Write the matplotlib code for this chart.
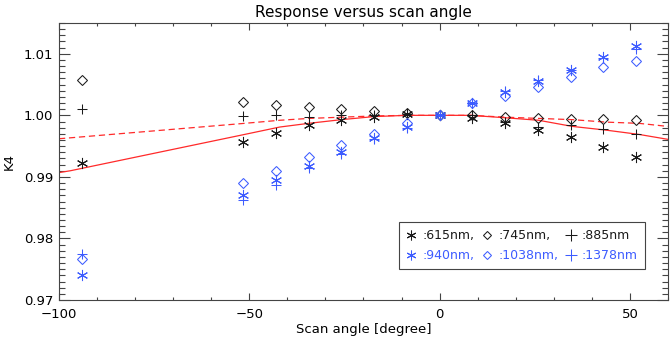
import matplotlib
matplotlib.use("Agg")
import matplotlib.pyplot as plt
from matplotlib.lines import Line2D
from matplotlib.ticker import MultipleLocator

plt.rcParams['font.family'] = ['DejaVu Sans']

# -- measured points --
angles = [-94, -51.6, -43, -34.4, -25.8, -17.2, -8.6, 0, 8.6, 17.2, 25.8, 34.4, 43, 51.6]

k615 = [0.9923, 0.9957, 0.9972, 0.9984, 0.9993, 0.9997, 1.0002, 1.0, 0.9995, 0.9987, 0.9976, 0.9965, 0.9949, 0.9933]
k745 = [1.0058, 1.0022, 1.0017, 1.0013, 1.0011, 1.0007, 1.0003, 1.0, 1.0000, 0.9997, 0.9995, 0.9994, 0.9994, 0.9992]
k885 = [1.0011, 0.9999, 1.0000, 0.9997, 1.0000, 1.0001, 1.0002, 1.0, 1.0000, 0.9989, 0.9981, 0.9984, 0.9978, 0.9970]
k940 = [0.9740, 0.9871, 0.9895, 0.9918, 0.9941, 0.9964, 0.9981, 1.0, 1.0020, 1.0038, 1.0055, 1.0074, 1.0095, 1.0113]
k1038 = [0.9767, 0.9890, 0.9910, 0.9932, 0.9952, 0.9969, 0.9987, 1.0, 1.0020, 1.0031, 1.0046, 1.0063, 1.0078, 1.0089]
k1378 = [0.9774, 0.9863, 0.9887, 0.9914, 0.9938, 0.9962, 0.9979, 1.0, 1.0020, 1.0039, 1.0057, 1.0073, 1.0093, 1.0108]

# -- model curves --
curve_x = [-100, -97, -52, -42, -34.4, -25.8, -17.2, -8.6, 0, 8.2, 17.4, 26, 34.9, 43.7, 52.4, 60]
curve_solid = [0.9907, 0.9910, 0.9968, 0.9981, 0.9987, 0.9993, 0.9998, 1.0, 1.0, 1.0, 0.9996, 0.9992, 0.9982, 0.9976, 0.9969, 0.9961]
curve_dash = [0.9962, 0.99635, 0.99866, 0.9992, 0.9995, 0.9997, 0.9999, 1.0, 1.0, 1.0, 0.9997, 0.9995, 0.9993, 0.9989, 0.9987, 0.9982]

black = '#1a1a1a'
blue = '#3d5cff'
asterisk = (6, 2, 0)

fig = plt.figure(figsize=(6.71, 3.46), dpi=100)
ax = fig.add_axes([0.0879, 0.1329, 0.9076, 0.8006])

ax.plot(curve_x, curve_solid, color='#ff2a2a', lw=0.9)
ax.plot(curve_x, curve_dash, color='#ff2a2a', lw=0.9, dashes=(5, 3))

ms = dict(linestyle='none', markeredgewidth=0.75)
ax.plot(angles, k615, marker=asterisk, ms=8, color=black, **ms)
ax.plot(angles, k745, marker='D', ms=5, mfc='none', color=black, **ms)
ax.plot(angles, k885, marker='+', ms=7.5, color=black, **ms)
ax.plot(angles, k940, marker=asterisk, ms=8, color=blue, **ms)
ax.plot(angles, k1038, marker='D', ms=5, mfc='none', color=blue, **ms)
ax.plot(angles, k1378, marker='+', ms=7.5, color=blue, **ms)

ax.set_xlim(-100, 60)
ax.set_ylim(0.97, 1.015)
ax.xaxis.set_major_locator(MultipleLocator(50))
ax.xaxis.set_minor_locator(MultipleLocator(10))
ax.yaxis.set_major_locator(MultipleLocator(0.01))
ax.yaxis.set_minor_locator(MultipleLocator(0.001))
ax.yaxis.set_major_formatter(lambda v, p: '%.2f' % v)
ax.xaxis.set_major_formatter(lambda v, p: '%d' % v if v >= 0 else '\u2212%d' % -v)

ax.tick_params(which='both', direction='in', top=True, right=True, colors='#444444',
               labelcolor='black', labelsize=9.5, width=0.8)
ax.tick_params(axis='y', which='major', length=8, pad=4)
ax.tick_params(axis='y', which='minor', length=4)
ax.tick_params(axis='x', which='major', length=5, pad=6)
ax.tick_params(axis='x', which='minor', length=2.2)
for s in ax.spines.values():
    s.set_color('#444444')
    s.set_linewidth(0.8)

ax.set_title('Response versus scan angle', fontsize=11, pad=4)
ax.set_xlabel('Scan angle [degree]', fontsize=9.5, labelpad=1)
ax.set_ylabel('K4', fontsize=9.5, labelpad=6)

handles = [
    Line2D([], [], marker=asterisk, ms=7, color=black, **ms),
    Line2D([], [], marker=asterisk, ms=7, color=blue, **ms),
    Line2D([], [], marker='D', ms=4.5, mfc='none', color=black, **ms),
    Line2D([], [], marker='D', ms=4.5, mfc='none', color=blue, **ms),
    Line2D([], [], marker='+', ms=8, color=black, **ms),
    Line2D([], [], marker='+', ms=8, color=blue, **ms),
]
labels = [':615nm,', ':940nm,', ':745nm,', ':1038nm,', ':885nm', ':1378nm']
leg = ax.legend(handles, labels, ncol=3, loc='lower right', bbox_to_anchor=(0.962, 0.112),
                fontsize=9, handlelength=0.8, handletextpad=0.5, columnspacing=0.6,
                fancybox=False, edgecolor='#444444', framealpha=1, borderpad=0.55,
                labelspacing=0.55, borderaxespad=0)
leg.get_frame().set_linewidth(0.8)
for i, t in enumerate(leg.get_texts()):
    t.set_color(black if i % 2 == 0 else blue)

fig.savefig('out.png', dpi=100)
